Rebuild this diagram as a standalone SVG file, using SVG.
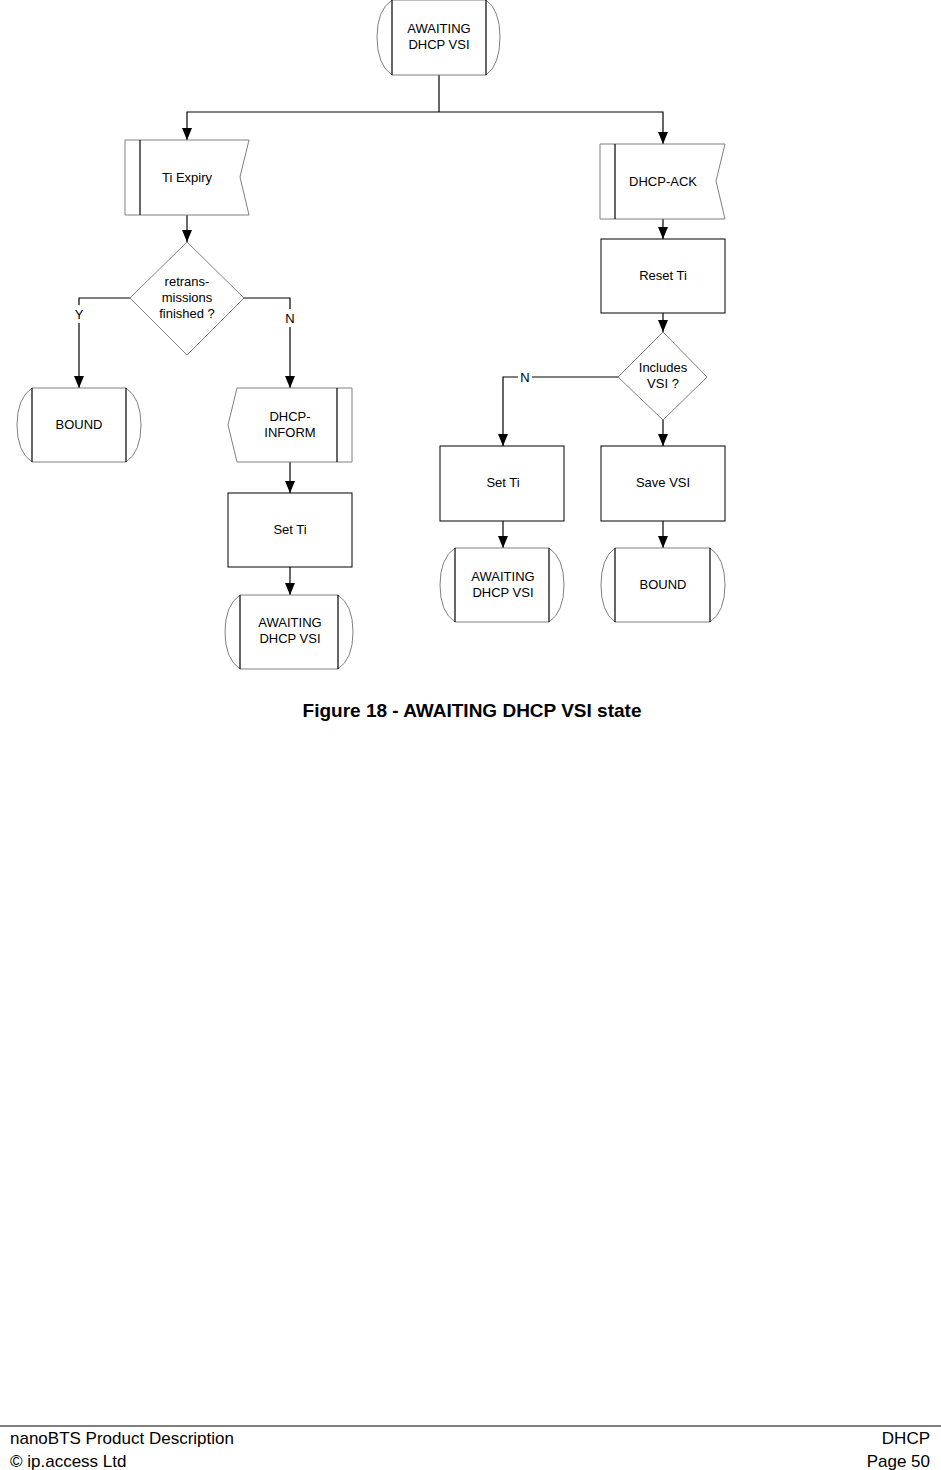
<svg xmlns="http://www.w3.org/2000/svg" width="941" height="1470" viewBox="0 0 941 1470">
<defs>
<marker id="ah" markerWidth="12" markerHeight="10" refX="12" refY="5" orient="auto" markerUnits="userSpaceOnUse"><path d="M0,0 L12,5 L0,10 Z" fill="#000"/></marker>
<style>
.s{fill:#fff;stroke:#808080;stroke-width:1}
.k{stroke:#000;stroke-width:1.2;fill:none}
.c{stroke:#000;stroke-width:1.2;fill:none}
.a{marker-end:url(#ah)}
text{font-family:"Liberation Sans",Arial,sans-serif;font-size:13px;text-anchor:middle;fill:#000}
</style>
</defs>
<rect width="941" height="1470" fill="#fff"/>
<g id="connectors">
<path class="c" d="M439,75 V112"/>
<path class="c a" d="M439,112 H187 V140"/>
<path class="c a" d="M439,112 H663 V144"/>
<path class="c a" d="M187,215 V242"/>
<path class="c" d="M130,298 H79 V305"/>
<path class="c a" d="M79,323 V388"/>
<path class="c" d="M244,298 H290 V309"/>
<path class="c a" d="M290,327 V388"/>
<path class="c a" d="M290,462 V493"/>
<path class="c a" d="M290,567 V595"/>
<path class="c a" d="M663,219 V239"/>
<path class="c a" d="M663,313 V332"/>
<path class="c" d="M618,377 H532"/>
<path class="c a" d="M518,377 H503 V446"/>
<path class="c a" d="M663,420 V446"/>
<path class="c a" d="M503,521 V548"/>
<path class="c a" d="M663,521 V548"/>
<text x="79" y="319">Y</text>
<text x="290" y="323">N</text>
<text x="525" y="382">N</text>
</g>
<g id="top">
<path class="s" d="M392,0 H486 Q500,10 500,37 Q500,65 486,75 H392 Q377,65 377,37 Q377,10 392,0 Z"/>
<path class="k" d="M392,0 V75 M486,0 V75"/>
<text x="439" y="33">AWAITING</text><text x="439" y="49">DHCP VSI</text>
</g>
<g id="tiexpiry">
<path class="s" d="M125,140 H249 L240,177 L249,215 H125 Z"/>
<path class="k" d="M140,140 V215"/>
<text x="187" y="182">Ti Expiry</text>
</g>
<g id="retrans">
<path class="s" d="M187,242 L244,298 L187,355 L130,298 Z"/>
<text x="187" y="286">retrans-</text><text x="187" y="302">missions</text><text x="187" y="318">finished ?</text>
</g>
<g id="bound1">
<path class="s" d="M32,388 H126 Q141,398 141,425 Q141,452 126,462 H32 Q17,452 17,425 Q17,398 32,388 Z"/>
<path class="k" d="M32,388 V462 M126,388 V462"/>
<text x="79" y="429">BOUND</text>
</g>
<g id="dhcpinform">
<path class="s" d="M237,388 H352 V462 H237 L228,425 Z"/>
<path class="k" d="M337,388 V462"/>
<text x="290" y="421">DHCP-</text><text x="290" y="437">INFORM</text>
</g>
<g id="setti1">
<rect class="s" x="228" y="493" width="124" height="74" style="stroke:#000"/>
<text x="290" y="534">Set Ti</text>
</g>
<g id="awaiting1">
<path class="s" d="M240,595 H338 Q353,605 353,632 Q353,659 338,669 H240 Q225,659 225,632 Q225,605 240,595 Z"/>
<path class="k" d="M240,595 V669 M338,595 V669"/>
<text x="290" y="627">AWAITING</text><text x="290" y="643">DHCP VSI</text>
</g>
<g id="dhcpack">
<path class="s" d="M600,144 H725 L716,181 L725,219 H600 Z"/>
<path class="k" d="M615,144 V219"/>
<text x="663" y="186">DHCP-ACK</text>
</g>
<g id="resetti">
<rect class="s" x="601" y="239" width="124" height="74" style="stroke:#000"/>
<text x="663" y="280">Reset Ti</text>
</g>
<g id="includes">
<path class="s" d="M663,332 L707,377 L663,420 L618,377 Z"/>
<text x="663" y="372">Includes</text><text x="663" y="388">VSI ?</text>
</g>
<g id="setti2">
<rect class="s" x="440" y="446" width="124" height="75" style="stroke:#000"/>
<text x="503" y="487">Set Ti</text>
</g>
<g id="savevsi">
<rect class="s" x="601" y="446" width="124" height="75" style="stroke:#000"/>
<text x="663" y="487">Save VSI</text>
</g>
<g id="awaiting2">
<path class="s" d="M455,548 H549 Q564,558 564,585 Q564,612 549,622 H455 Q440,612 440,585 Q440,558 455,548 Z"/>
<path class="k" d="M455,548 V622 M549,548 V622"/>
<text x="503" y="581">AWAITING</text><text x="503" y="597">DHCP VSI</text>
</g>
<g id="bound2">
<path class="s" d="M615,548 H710 Q725,558 725,585 Q725,612 710,622 H615 Q601,612 601,585 Q601,558 615,548 Z"/>
<path class="k" d="M615,548 V622 M710,548 V622"/>
<text x="663" y="589">BOUND</text>
</g>
<text x="472" y="717" style="font-size:19px;font-weight:bold">Figure 18 - AWAITING DHCP VSI state</text>
<line x1="0" y1="1426" x2="941" y2="1426" stroke="#000" stroke-width="1"/>
<text x="10" y="1444" style="font-size:17px;text-anchor:start">nanoBTS Product Description</text>
<text x="10" y="1467" style="font-size:17px;text-anchor:start">© ip.access Ltd</text>
<text x="930" y="1444" style="font-size:17px;text-anchor:end">DHCP</text>
<text x="930" y="1467" style="font-size:17px;text-anchor:end">Page 50</text>
</svg>
